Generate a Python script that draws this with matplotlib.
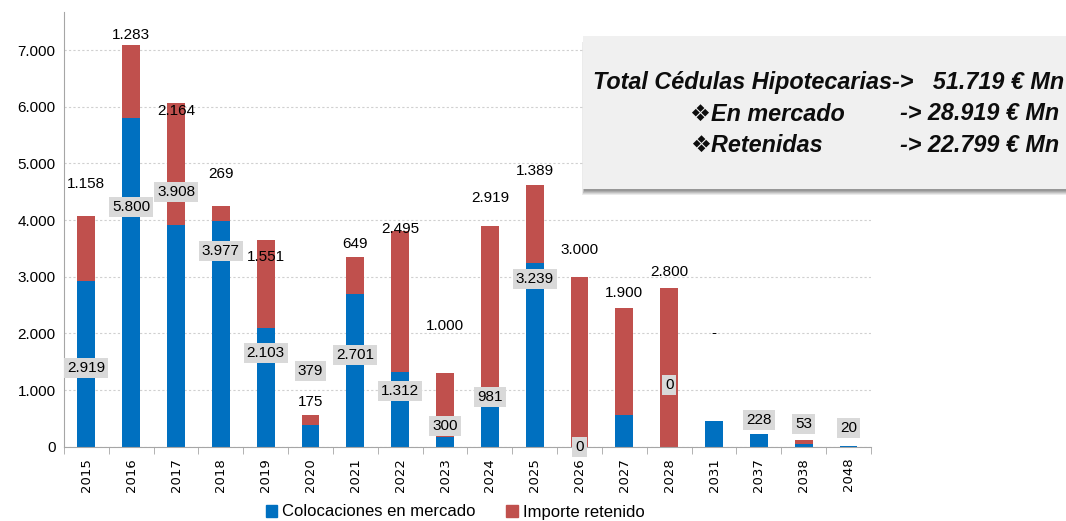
import matplotlib
matplotlib.use("Agg")
import matplotlib.pyplot as plt
from matplotlib.patches import Rectangle, Patch
from matplotlib.ticker import FuncFormatter, FixedLocator

# Data (heights)
years = ["2015", "2016", "2017", "2018", "2019", "2020", "2021", "2022", "2023",
         "2024", "2025", "2026", "2027", "2028", "2031", "2037", "2038", "2048"]
mercado = [2919, 5800, 3908, 3977, 2103, 379, 2701, 1312, 175,
           706, 3239, 0, 554, 0, 453, 228, 55, 20]
retenido = [1158, 1283, 2164, 269, 1551, 175, 649, 2495, 1130,
            3190, 1389, 3000, 1900, 2800, 0, 0, 55, 0]
mercado_labels = ["2.919", "5.800", "3.908", "3.977", "2.103", "379", "2.701", "1.312", "300",
                  "981", "3.239", "0", "", "0", "", "228", "53", "20"]
retenido_labels = ["1.158", "1.283", "2.164", "269", "1.551", "175", "649", "2.495", "1.000",
                   "2.919", "1.389", "3.000", "1.900", "2.800", "-", "", "", ""]

# label offsets in pixels (layout only)
mercado_off = [-87, -89, 33, -30, -25, 54, -61, -19, 11, 10, -16, 0, 0, 62, 0, 14, 20, 18]
retenido_off = [32, 10, -8, 32, -17, 13, 13, 2, 47, 28, 14, 27, 15, 16, 88, 0, 0, 0]

BLUE = "#0070C0"
RED = "#C0504D"
FONT = ["Liberation Sans", "DejaVu Sans"]

fig = plt.figure(figsize=(10.66, 5.21), dpi=100)
ax = fig.add_axes([0.060, 0.1426, 0.757, 0.834])

x = list(range(len(years)))
ax.bar(x, mercado, width=0.4, color=BLUE, zorder=2)
ax.bar(x, retenido, width=0.4, bottom=mercado, color=RED, zorder=2)

ax.set_xlim(-0.5, len(years) - 0.5)
ax.set_ylim(0, 7670)
ax.yaxis.set_major_locator(FixedLocator(range(0, 8000, 1000)))
ax.yaxis.set_major_formatter(FuncFormatter(lambda v, p: f"{int(v):,}".replace(",", ".")))
ax.grid(axis="y", color="#D0D0D0", linestyle=(0, (2, 2)), linewidth=0.8, zorder=0)

for s in ["top", "right"]:
    ax.spines[s].set_visible(False)
ax.spines["left"].set_color("#A6A6A6")
ax.spines["bottom"].set_color("#A6A6A6")
ax.tick_params(axis="y", length=0, labelsize=11, pad=6)
for t in ax.get_yticklabels():
    t.set_family(FONT)

ax.set_xticks(x)
ax.set_xticklabels(years, rotation=90, fontsize=9.5, family="DejaVu Sans")
ax.tick_params(axis="x", length=0, pad=8)
ax.set_xticks([i - 0.5 for i in range(len(years) + 1)], minor=True)
ax.tick_params(axis="x", which="minor", length=5, color="#A6A6A6")

for i in x:
    if mercado_labels[i]:
        ax.annotate(mercado_labels[i], (i, mercado[i]), xytext=(0, mercado_off[i]),
                    textcoords="offset pixels", ha="center", va="center", fontsize=11,
                    family=FONT, zorder=5,
                    bbox=dict(boxstyle="square,pad=0.2", fc="#D9D9D9", ec="none"))
    if retenido_labels[i]:
        top = mercado[i] + retenido[i]
        ax.annotate(retenido_labels[i], (i, top), xytext=(0, retenido_off[i]),
                    textcoords="offset pixels", ha="center", va="center",
                    fontsize=11, family=FONT, zorder=5)

handles = [Patch(color=BLUE), Patch(color=RED)]
fig.legend(handles, ["Colocaciones en mercado", "Importe retenido"], loc="center",
           bbox_to_anchor=(455 / 1066, 1 - 512 / 521), ncol=2, frameon=False,
           handlelength=0.7, handleheight=0.7, handletextpad=0.3, columnspacing=1.8,
           prop={"family": FONT, "size": 12})

# summary box with a soft shadow
W, H = 1066, 521
bx, by, bw, bh = 583, 36, 520, 153
for k, a in enumerate([0.10, 0.12, 0.14, 0.16, 0.18]):
    d = 5 - k
    fig.patches.append(Rectangle(((bx - 1 + k * 0.6) / W, 1 - (by + bh + d + 1) / H),
                                 (bw) / W, (bh) / H, transform=fig.transFigure,
                                 fc="#404040", ec="none", alpha=a, zorder=10))
fig.patches.append(Rectangle((bx / W, 1 - (by + bh) / H), bw / W, bh / H,
                             transform=fig.transFigure, fc="#F0F0F0", ec="none", zorder=11))
tk = dict(fontsize=16.8, fontweight="bold", style="italic", family=FONT, va="center",
          ha="left", color="#0D0D0D", zorder=12)
fig.text(593 / W, 1 - 82 / H, "Total Cédulas Hipotecarias->   51.719 € Mn", **tk)
fig.text(690 / W, 1 - 114 / H, "❖En mercado", **tk)
fig.text(900 / W, 1 - 114 / H, "-> 28.919 € Mn", **tk)
fig.text(690 / W, 1 - 145 / H, "❖Retenidas", **tk)
fig.text(900 / W, 1 - 145 / H, "-> 22.799 € Mn", **tk)

fig.savefig("out.png", dpi=100)
